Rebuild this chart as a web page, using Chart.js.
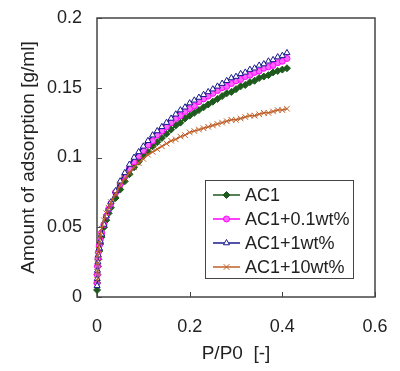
<!DOCTYPE html>
<html>
<head>
<meta charset="utf-8">
<script src="https://cdn.jsdelivr.net/npm/chart.js@4"></script>
<style>
  html, body { margin: 0; padding: 0; background: #fff; }
</style>
</head>
<body>
<canvas id="chart" width="400" height="371"></canvas>
<script>
// relative pressure P/P0
const pressure = [0.0002, 0.0005, 0.001, 0.002, 0.003, 0.005, 0.007, 0.01, 0.015, 0.02, 0.025, 0.03,
  0.04, 0.05, 0.06, 0.07, 0.08, 0.09, 0.10, 0.11, 0.12, 0.13, 0.14, 0.15, 0.16, 0.17, 0.18, 0.19,
  0.20, 0.21, 0.22, 0.23, 0.24, 0.25, 0.26, 0.27, 0.28, 0.29, 0.30, 0.31, 0.32, 0.33, 0.34, 0.35,
  0.36, 0.37, 0.38, 0.39, 0.40, 0.41];

// amount of adsorption [g/ml]
const ac1 = [0.005, 0.010, 0.016, 0.022, 0.027, 0.033, 0.038, 0.043, 0.050, 0.055, 0.060, 0.064,
  0.071, 0.077, 0.083, 0.088, 0.093, 0.097, 0.101, 0.104, 0.108, 0.111, 0.114, 0.117, 0.120, 0.123, 0.125, 0.128,
  0.130, 0.132, 0.134, 0.136, 0.138, 0.140, 0.142, 0.144, 0.146, 0.147, 0.149, 0.151, 0.152, 0.154, 0.155, 0.157,
  0.158, 0.159, 0.161, 0.162, 0.163, 0.164];
const ac1_01 = [0.010, 0.016, 0.022, 0.028, 0.032, 0.037, 0.041, 0.046, 0.052, 0.058, 0.063, 0.067,
  0.075, 0.081, 0.087, 0.092, 0.097, 0.101, 0.105, 0.109, 0.112, 0.116, 0.119, 0.122, 0.125, 0.128, 0.130, 0.133,
  0.135, 0.137, 0.140, 0.142, 0.144, 0.146, 0.148, 0.150, 0.151, 0.153, 0.155, 0.156, 0.158, 0.159, 0.161, 0.162,
  0.164, 0.165, 0.166, 0.168, 0.169, 0.171];
const ac1_1 = [0.008, 0.013, 0.019, 0.025, 0.030, 0.035, 0.040, 0.045, 0.052, 0.058, 0.063, 0.068,
  0.076, 0.083, 0.089, 0.095, 0.100, 0.104, 0.108, 0.112, 0.116, 0.119, 0.122, 0.125, 0.128, 0.131, 0.134, 0.136,
  0.139, 0.141, 0.143, 0.145, 0.147, 0.149, 0.151, 0.153, 0.155, 0.157, 0.158, 0.160, 0.161, 0.163, 0.164, 0.166,
  0.167, 0.169, 0.170, 0.172, 0.173, 0.175];
const ac1_10 = [0.012, 0.018, 0.024, 0.030, 0.034, 0.039, 0.044, 0.049, 0.055, 0.060, 0.064, 0.068,
  0.074, 0.080, 0.085, 0.089, 0.093, 0.096, 0.099, 0.102, 0.104, 0.106, 0.108, 0.110, 0.112, 0.113, 0.115, 0.116,
  0.118, 0.119, 0.120, 0.121, 0.122, 0.123, 0.124, 0.125, 0.126, 0.127, 0.127, 0.128, 0.129, 0.130, 0.130, 0.131,
  0.132, 0.132, 0.133, 0.134, 0.134, 0.135];

const seriesNames = ['AC1', 'AC1+0.1wt%', 'AC1+1wt%', 'AC1+10wt%'];
const xTickLabels = ['0', '0.2', '0.4', '0.6'];
const yTickLabels = ['0', '0.05', '0.1', '0.15', '0.2'];

const FONT = 'Arial, "Liberation Sans", sans-serif';
const toPoints = vals => pressure.map((p, i) => ({ x: p, y: vals[i] }));

const styles = [
  { color: '#1e5a1e', fill: '#1e5a1e', shape: 'rectRot', r: 3.5 },
  { color: '#ff00ff', fill: '#ff66ff', shape: 'circle', r: 3 },
  { color: '#1a1a8c', fill: '#ffffff', shape: 'triangle', r: 3.5 },
  { color: '#c0602a', fill: '#c0602a', shape: 'crossRot', r: 4 }
];

// let the layout padding alone decide where the plot area sits
const noEdgePadding = s => {
  s.paddingLeft = 0; s.paddingRight = 0; s.paddingTop = 0; s.paddingBottom = 0;
};

const frameAndLegend = {
  id: 'frameAndLegend',
  beforeDatasetsDraw(chart) {
    const { ctx, chartArea: a, scales: { x, y } } = chart;
    ctx.save();
    ctx.strokeStyle = '#444';
    ctx.lineWidth = 1.5;
    ctx.strokeRect(a.left, a.top, a.right - a.left, a.bottom - a.top);
    ctx.lineWidth = 1;
    ctx.beginPath();
    y.ticks.forEach(t => {
      const py = Math.round(y.getPixelForValue(t.value)) + 0.5;
      ctx.moveTo(a.left, py); ctx.lineTo(a.left + 5, py);
    });
    x.ticks.forEach(t => {
      const px = Math.round(x.getPixelForValue(t.value)) + 0.5;
      ctx.moveTo(px, a.bottom); ctx.lineTo(px, a.bottom - 5);
    });
    ctx.stroke();
    ctx.restore();
  },
  afterDraw(chart) {
    const { ctx } = chart;
    const bx = 205, by = 180, bw = 148, bh = 98;
    ctx.save();
    ctx.fillStyle = '#fff';
    ctx.fillRect(bx, by, bw, bh);
    ctx.strokeStyle = '#444';
    ctx.lineWidth = 1;
    ctx.strokeRect(bx + 0.5, by + 0.5, bw, bh);
    ctx.font = '18px ' + FONT;
    ctx.textBaseline = 'middle';
    chart.data.datasets.forEach((ds, i) => {
      const cy = by + 15 + i * 24;
      ctx.strokeStyle = ds.borderColor;
      ctx.lineWidth = 1.5;
      ctx.beginPath();
      ctx.moveTo(213, cy); ctx.lineTo(240, cy);
      ctx.stroke();
      ctx.fillStyle = ds.pointBackgroundColor;
      ctx.strokeStyle = ds.pointBorderColor;
      ctx.lineWidth = 1;
      Chart.helpers.drawPoint(ctx, { pointStyle: ds.pointStyle, radius: ds.pointRadius, borderWidth: 1 }, 226.5, cy);
      ctx.fillStyle = '#222';
      ctx.fillText(ds.label, 245, cy + 1);
    });
    ctx.restore();
  }
};

new Chart(document.getElementById('chart'), {
  type: 'line',
  data: {
    datasets: [ac1, ac1_01, ac1_1, ac1_10].map((vals, i) => ({
      label: seriesNames[i],
      data: toPoints(vals),
      borderColor: styles[i].color,
      borderWidth: 1.5,
      pointStyle: styles[i].shape,
      pointRadius: styles[i].r,
      pointBorderWidth: 1,
      pointBorderColor: styles[i].color,
      pointBackgroundColor: styles[i].fill,
      tension: 0,
      clip: false,
      order: 4 - i
    }))
  },
  options: {
    responsive: false,
    animation: false,
    layout: { autoPadding: false, padding: { top: 18, right: 25, left: 0, bottom: 0 } },
    plugins: { legend: { display: false }, tooltip: { enabled: false } },
    scales: {
      x: {
        type: 'linear', min: 0, max: 0.6,
        afterFit: s => { s.height = 74; noEdgePadding(s); },
        grid: { display: false, drawTicks: false },
        border: { display: false },
        ticks: {
          stepSize: 0.2, padding: 19, color: '#222', font: { size: 18, family: FONT },
          callback: (v, i) => xTickLabels[i]
        },
        title: {
          display: true, text: 'P/P0  [-]', color: '#222',
          font: { size: 19, family: FONT }, padding: { top: 0, bottom: 6 }
        }
      },
      y: {
        min: 0, max: 0.2,
        afterFit: s => { s.width = 97; noEdgePadding(s); },
        grid: { display: false, drawTicks: false },
        border: { display: false },
        ticks: {
          stepSize: 0.05, padding: 15, color: '#222', font: { size: 18, family: FONT },
          callback: (v, i) => yTickLabels[i]
        },
        title: {
          display: true, text: 'Amount of adsorption [g/ml]', color: '#222',
          font: { size: 19, family: FONT }, padding: { top: 17, bottom: 0 }
        }
      }
    }
  },
  plugins: [frameAndLegend]
});
</script>
</body>
</html>
